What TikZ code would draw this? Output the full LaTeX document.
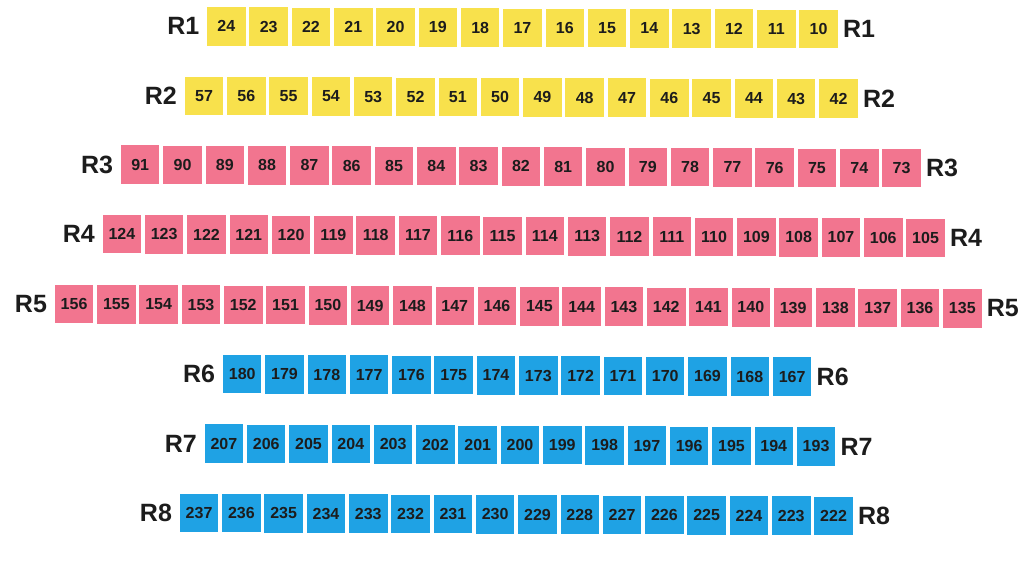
\documentclass[tikz,border=0pt]{standalone}
\usepackage{fontspec}
\setmainfont{Liberation Sans}
\definecolor{seatyellow}{HTML}{F8E14C}
\definecolor{seatpink}{HTML}{F2758F}
\definecolor{seatblue}{HTML}{1FA2E4}
\definecolor{seattext}{HTML}{1C1C1C}
\newcommand\seatrow[6]{%
  \foreach \k in {1,...,#3}{%
    \pgfmathtruncatemacro\num{#2-\k+1}%
    \node[seat,fill=#6] (r#1-\k) at ({#4+(\k-1)*42.3},#5) {\num};
  }%
  \node[rowlab,anchor=east] (l#1) at ([xshift=-7.5pt]r#1-1.west) {R#1};
  \node[rowlab,anchor=west] (e#1) at ([xshift=5pt]r#1-#3.east) {R#1};
}
\begin{document}
\begin{tikzpicture}[x=1pt,y=-1pt,
  seat/.style={minimum width=38.5pt,minimum height=38.5pt,inner sep=0pt,
    font=\bfseries\fontsize{16}{16}\selectfont,text=seattext},
  rowlab/.style={inner sep=0pt,font=\bfseries\fontsize{25}{25}\selectfont,text=seattext}]
\useasboundingbox[fill=white] (0,0) rectangle (1028,578);
\begin{scope}[rotate=-0.27]
\seatrow{1}{24}{15}{226.5}{25.3}{seatyellow}
\seatrow{2}{57}{16}{204.5}{94.8}{seatyellow}
\seatrow{3}{91}{19}{141}{164}{seatpink}
\seatrow{4}{124}{20}{123}{233.5}{seatpink}
\seatrow{5}{156}{22}{75.5}{303.8}{seatpink}
\seatrow{6}{180}{14}{244}{373}{seatblue}
\seatrow{7}{207}{15}{226}{442.6}{seatblue}
\seatrow{8}{237}{16}{201.5}{512}{seatblue}
\end{scope}
\end{tikzpicture}
\end{document}
